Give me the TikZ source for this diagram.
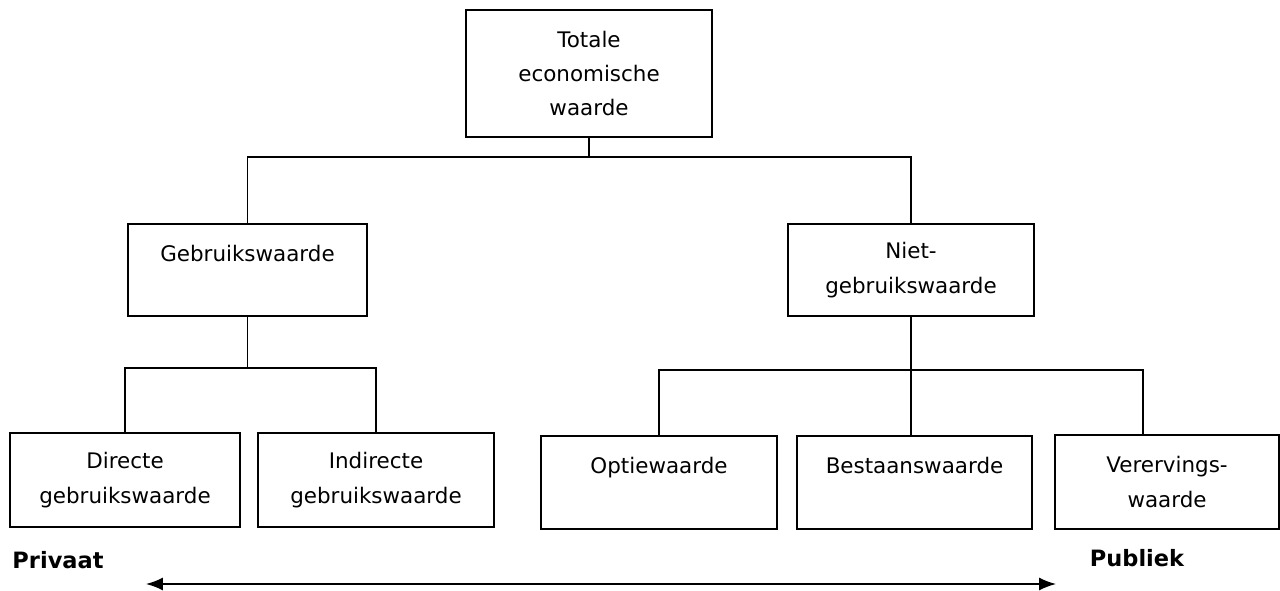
\documentclass[tikz,border=0pt]{standalone}
\usepackage{fontspec}
\setmainfont{DejaVu Sans}
\usetikzlibrary{arrows.meta}
\begin{document}
\begin{tikzpicture}[x=0.02cm, y=-0.02cm, line width=1pt,
    box/.style={draw, rectangle, align=center, font=\fontsize{12.2}{19.5}\selectfont},
    side/.style={font=\fontsize{12.8}{14}\selectfont\bfseries}]
    \useasboundingbox (0,0) rectangle (1280,591);
    % Root
    \node[box, minimum width=4.92cm, minimum height=2.54cm] (tew) at (589,73.5) {Totale\\economische\\waarde};

    % First level
    \node[box, minimum width=4.78cm, minimum height=1.84cm] (gebr) at (247.5,270) {Gebruikswaarde\\\mbox{}};
    \node[box, minimum width=4.92cm, minimum height=1.84cm] (niet) at (911,270) {Niet-\\gebruikswaarde};

    % Use branch
    \node[box, minimum width=4.6cm, minimum height=1.88cm] (dir) at (125,480) {Directe\\gebruikswaarde};
    \node[box, minimum width=4.72cm, minimum height=1.88cm] (indir) at (376,480) {Indirecte\\gebruikswaarde};

    % Non-use branch
    \node[box, minimum width=4.72cm, minimum height=1.86cm] (optie) at (659,482.5) {Optiewaarde\\\mbox{}};
    \node[box, minimum width=4.7cm, minimum height=1.86cm] (bestaan) at (914.5,482.5) {Bestaanswaarde\\\mbox{}};
    \node[box, minimum width=4.48cm, minimum height=1.88cm] (vererv) at (1167,482) {Verervings-\\waarde};

    % Private / public
    \node[side] (priv) at (58,560) {Privaat};
    \node[side] (publ) at (1137,558) {Publiek};

    % Connections
    \coordinate (top) at (589,157);
    \coordinate (gbus) at (250,368);
    \coordinate (nbusL) at (657,370);
    \coordinate (nbusR) at (1143,370);
    \coordinate (pl) at (146,584);
    \coordinate (pr) at (1056,584);
    \draw (tew.south) -- (top);
    \draw (gebr.north) -- (gebr.north |- top) -- (niet.north |- top) -- (niet.north);
    \draw (gebr.south) -- (gebr.south |- gbus);
    \draw (dir.north) -- (dir.north |- gbus) -- (indir.north |- gbus) -- (indir.north);
    \draw (niet.south) -- (niet.south |- bestaan.north);
    \draw (optie.north) -- (optie.north |- nbusL) -- (nbusR) -- (nbusR |- vererv.north);
    \draw[line width=0.8pt, {Latex[length=0.34cm,width=0.26cm]}-{Latex[length=0.34cm,width=0.26cm]}] (pl) -- (pr);
\end{tikzpicture}
\end{document}
